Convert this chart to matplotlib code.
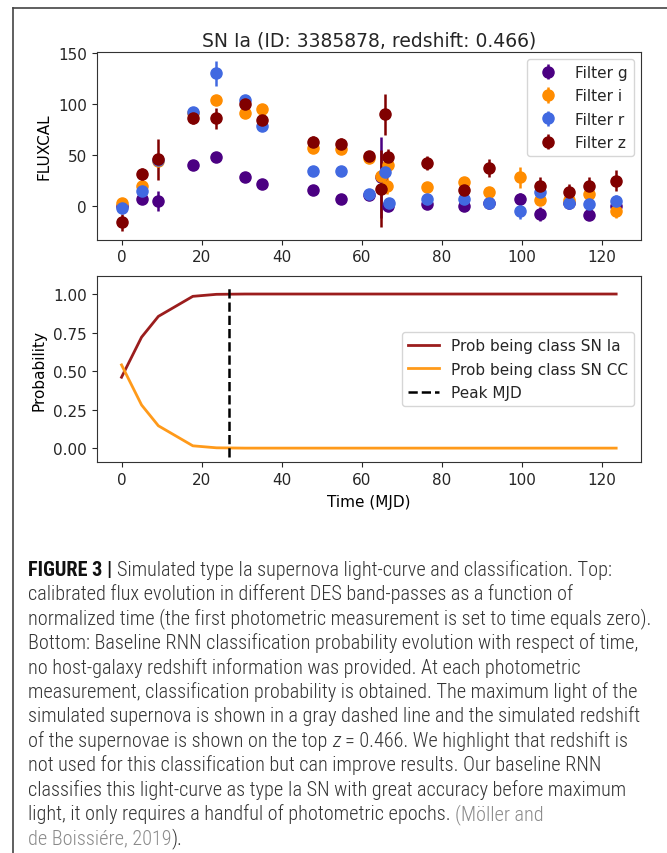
import matplotlib
matplotlib.use("Agg")
import matplotlib.pyplot as plt
from matplotlib.lines import Line2D
from matplotlib import font_manager as fm

# ---------------- data ----------------
title = "SN Ia (ID: 3385878, redshift: 0.466)"

time_g = [0, 5, 9.2, 17.8, 23.7, 30.8, 35, 47.8, 54.7, 61.8, 64.7, 66.5, 76.3, 85.6, 91.8, 99.4, 104.5, 111.7, 116.6, 123.5]
flux_g = [0, 7, 5, 40, 48, 28, 22, 16, 7, 11, 28, 0, 2, 0, 3, 7, -8, 3, -9, 0]
err_g = [3, 3, 10, 3, 3, 3, 3, 3, 3, 3, 40, 5, 3, 3, 3, 6, 7, 3, 4, 4]

time_i = [0, 5, 9.2, 17.8, 23.7, 30.8, 35, 47.8, 54.7, 61.8, 64.7, 66.2, 66.5, 76.3, 85.6, 91.8, 99.4, 104.5, 111.7, 116.6, 123.5]
flux_i = [3, 20, 44, 91, 104, 91, 95, 57, 56, 47, 29, 20, 40, 19, 24, 14, 28, 6, 6, 12, -5]
err_i = [4, 4, 4, 4, 4, 4, 5, 4, 4, 4, 5, 8, 4, 4, 4, 5, 10, 4, 4, 5, 7]

time_r = [0, 5, 9.2, 17.8, 23.7, 30.8, 35, 47.8, 54.7, 61.8, 65.9, 66.7, 76.3, 85.6, 91.8, 99.4, 104.5, 111.7, 116.6, 123.5]
flux_r = [-2, 15, 45, 92, 130, 104, 78, 34, 34, 12, 33, 3, 7, 7, 3, -5, 14, 3, 2, 5]
err_r = [3, 4, 4, 4, 12, 4, 4, 3, 3, 3, 5, 5, 3, 3, 3, 8, 5, 3, 3, 6]

time_z = [0, 5, 9.2, 17.8, 23.7, 30.8, 35, 47.8, 54.7, 61.8, 64.7, 65.8, 66.5, 76.3, 85.6, 91.8, 104.5, 111.7, 116.6, 123.5]
flux_z = [-16, 31, 46, 86, 86, 100, 84, 63, 61, 49, 17, 90, 48, 42, 16, 37, 20, 14, 20, 25]
err_z = [8, 6, 20, 6, 10, 4, 4, 6, 6, 5, 38, 20, 8, 7, 4, 9, 8, 8, 8, 10]

filter_names = ["Filter g", "Filter i", "Filter r", "Filter z"]

prob_time = [0, 5, 9.2, 17.8, 23.7, 30.8, 35, 47.8, 54.7, 61.8, 64.7, 66, 66.5, 76.3, 85.6, 91.8, 99.4, 104.5, 111.7, 116.6, 123.5]
prob_ia = [0.46, 0.72, 0.855, 0.985, 0.998, 1, 1, 1, 1, 1, 1, 1, 1, 1, 1, 1, 1, 1, 1, 1, 1]
prob_cc = [0.54, 0.28, 0.145, 0.015, 0.002, 0, 0, 0, 0, 0, 0, 0, 0, 0, 0, 0, 0, 0, 0, 0, 0]
peak_mjd = 26.8
prob_labels = ["Prob being class SN Ia", "Prob being class SN CC", "Peak MJD"]

x_ticks = [0, 20, 40, 60, 80, 100, 120]
flux_ticks = [0, 50, 100, 150]
prob_ticks = [0.0, 0.25, 0.5, 0.75, 1.0]

# ---------------- figure ----------------
W, H, DPI = 667, 854, 100
plt.rcParams["text.color"] = "#262626"
plt.rcParams["xtick.color"] = "#262626"
plt.rcParams["ytick.color"] = "#262626"
plt.rcParams["axes.edgecolor"] = "#333333"
fig = plt.figure(figsize=(W / DPI, H / DPI), dpi=DPI)
fig.patch.set_facecolor("white")

def fx(px):
    return px / W

def fy(py):
    return 1 - py / H

L, R = 96.7, 641.0
ax1 = fig.add_axes([fx(L), fy(240.7), (R - L) / W, (240.7 - 53.0) / H])
ax2 = fig.add_axes([fx(L), fy(463.3), (R - L) / W, (463.3 - 277.3) / H])

FS = 11
colors = ["#4B0082", "#FF8C00", "#4169E1", "#800000"]
series = [(time_g, flux_g, err_g), (time_i, flux_i, err_i), (time_r, flux_r, err_r), (time_z, flux_z, err_z)]
for (t, f, e), c, name in zip(series, colors, filter_names):
    ax1.errorbar(t, f, yerr=e, fmt="o", color=c, ms=8, elinewidth=1.8, capsize=0, label=name)

ax1.set_xlim(-6.2, 129.7)
ax1.set_ylim(-33, 151)
ax1.set_xticks(x_ticks)
ax1.set_yticks(flux_ticks)
ax1.set_ylabel("FLUXCAL", fontsize=FS, labelpad=5)
ax1.set_title(title, fontsize=13.5, pad=5)
ax1.legend(loc="upper right", fontsize=FS, handlelength=2.0, labelspacing=0.55, borderaxespad=0.45)
ax1.tick_params(labelsize=FS)

ax2.plot(prob_time, prob_ia, color="#9b1d1d", lw=2, label=prob_labels[0])
ax2.plot(prob_time, prob_cc, color="#ff9a1a", lw=2, label=prob_labels[1])
ax2.axvline(peak_mjd, ymin=0.03, ymax=0.94, color="black", ls="--", lw=1.8, label=prob_labels[2])
ax2.set_xlim(-6.2, 129.7)
ax2.set_ylim(-0.092, 1.115)
ax2.set_xticks(x_ticks)
ax2.set_yticks(prob_ticks)
ax2.set_yticklabels([f"{v:.2f}" for v in prob_ticks])
ax2.set_ylabel("Probability", fontsize=FS, labelpad=5)
ax2.set_xlabel("Time (MJD)", fontsize=FS, labelpad=5)
ax2.legend(loc="center right", fontsize=FS, handlelength=2.0, labelspacing=0.55, borderaxespad=0.45)
ax2.tick_params(labelsize=FS)

# outer frame
fig.add_artist(Line2D([fx(13), fx(667)], [fy(8.5), fy(8.5)], color="#444444", lw=1.2))
fig.add_artist(Line2D([fx(13), fx(13)], [fy(8.5), fy(854)], color="#444444", lw=1.2))

# ---------------- caption ----------------
def pick_family():
    for fam in ["Liberation Sans Narrow", "Roboto Condensed", "Open Sans Condensed", "Liberation Sans"]:
        try:
            fm.findfont(fm.FontProperties(family=fam), fallback_to_default=False)
            return fam
        except Exception:
            continue
    return "DejaVu Sans"

cap_family = pick_family()
renderer = fig.canvas.get_renderer()

def text_width(s, fs, **kw):
    t = fig.text(0, 0, s, fontsize=fs, family=cap_family, **kw)
    w = t.get_window_extent(renderer=renderer).width
    t.remove()
    return w

ref_line = "normalized time (the first photometric measurement is set to time equals zero)."
base_fs = 12
cap_fs = base_fs * 622.0 / text_width(ref_line, base_fs, weight="light")

TXT = "#333333"
GRAY = "#8a8a8a"
space_w = text_width("x x", cap_fs, weight="light") - text_width("xx", cap_fs, weight="light")

caption = [
    [("FIGURE 3 |", dict(color="#111111", weight="bold")), (" ", {}), ("Simulated type Ia supernova light-curve and classification. Top:", {})],
    [("calibrated flux evolution in different DES band-passes as a function of", {})],
    [("normalized time (the first photometric measurement is set to time equals zero).", {})],
    [("Bottom: Baseline RNN classification probability evolution with respect of time,", {})],
    [("no host-galaxy redshift information was provided. At each photometric", {})],
    [("measurement, classification probability is obtained. The maximum light of the", {})],
    [("simulated supernova is shown in a gray dashed line and the simulated redshift", {})],
    [("of the supernovae is shown on the top", {}), (" ", {}), ("z", dict(style="italic")), (" ", {}), ("= 0.466. We highlight that redshift is", {})],
    [("not used for this classification but can improve results. Our baseline RNN", {})],
    [("classifies this light-curve as type Ia SN with great accuracy before maximum", {})],
    [("light, it only requires a handful of photometric epochs.", {}), (" ", {}), ("(Möller and", dict(color=GRAY))],
    [("de Boissiére, 2019", dict(color=GRAY)), (").", {})],
]

y0, dy, x0 = 576.0, 24.4, 28.0
for i, line in enumerate(caption):
    x = x0
    y = y0 + i * dy
    for s, kw in line:
        if s == " ":
            x += space_w
            continue
        kw2 = dict(color=TXT, weight="light")
        kw2.update(kw)
        t = fig.text(fx(x), fy(y), s, fontsize=cap_fs, family=cap_family, ha="left", va="baseline", **kw2)
        x += t.get_window_extent(renderer=renderer).width

fig.savefig("out.png", dpi=DPI, facecolor="white")
